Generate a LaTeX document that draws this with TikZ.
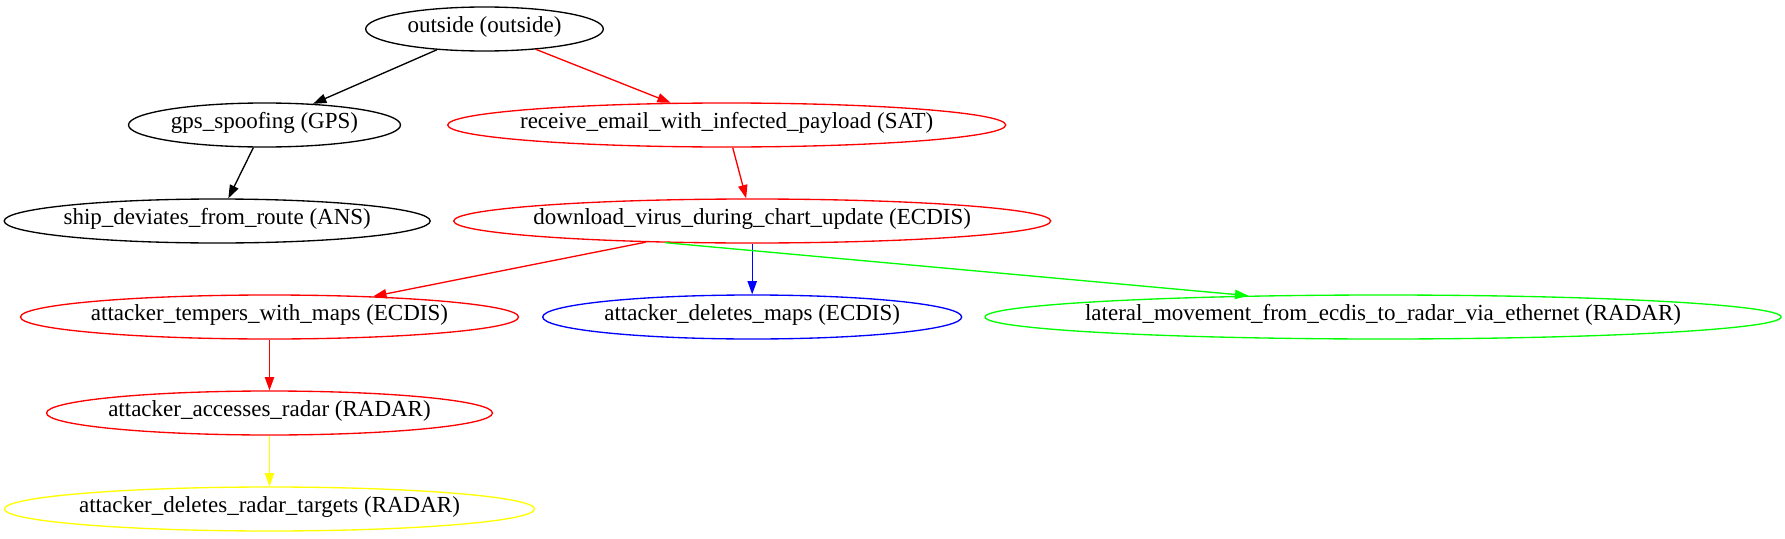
\documentclass[tikz,border=0pt]{standalone}
\usepackage{fontspec}
\setmainfont{Liberation Serif}
\usetikzlibrary{shapes.geometric,arrows.meta}
\definecolor{gvred}{RGB}{255,0,0}
\definecolor{gvblue}{RGB}{0,0,255}
\definecolor{gvgreen}{RGB}{0,255,0}
\definecolor{gvyellow}{RGB}{255,255,0}
\newcommand\zb[1]{\makebox[0pt]{#1}}
\tikzset{
  gvnode/.style={ellipse, draw, line width=1pt, inner sep=0pt,
    minimum width={#1*0.75pt}, minimum height=33pt,
    text height=0.69em, text depth=0.22em},
  gvedge/.style={line width=1pt, -{Triangle[length=10pt,width=7pt]}},
}
\begin{document}
\begin{tikzpicture}[x=0.75pt, y=-0.75pt, font=\fontsize{17.25}{20}\selectfont]
\useasboundingbox (0,0) rectangle (1785,539);

\node[gvnode=237.6] (outside) at (484.5,29) {\zb{outside (outside)}};
\node[gvnode=272] (gps) at (264.5,125) {\zb{gps\_spoofing (GPS)}};
\node[gvnode=558, draw=gvred] (receive) at (726.7,125) {\zb{receive\_email\_with\_infected\_payload (SAT)}};
\node[gvnode=426] (ship) at (217.2,221) {\zb{ship\_deviates\_from\_route (ANS)}};
\node[gvnode=597, draw=gvred] (download) at (752.2,221) {\zb{download\_virus\_during\_chart\_update (ECDIS)}};
\node[gvnode=498, draw=gvred] (tempers) at (269.5,317) {\zb{attacker\_tempers\_with\_maps (ECDIS)}};
\node[gvnode=419, draw=gvblue] (dmaps) at (752.2,317) {\zb{attacker\_deletes\_maps (ECDIS)}};
\node[gvnode=796, draw=gvgreen] (lateral) at (1383,317) {\zb{lateral\_movement\_from\_ecdis\_to\_radar\_via\_ethernet (RADAR)}};
\node[gvnode=446, draw=gvred] (accesses) at (269.5,413) {\zb{attacker\_accesses\_radar (RADAR)}};
\node[gvnode=530, draw=gvyellow] (dradar) at (269.5,509) {\zb{attacker\_deletes\_radar\_targets (RADAR)}};

\draw[gvedge] (outside) -- (gps);
\draw[gvedge, gvred] (outside) -- (receive);
\draw[gvedge] (gps) -- (ship);
\draw[gvedge, gvred] (receive) -- (download);
\draw[gvedge, gvred] (download) -- (tempers);
\draw[gvedge, gvblue] (download) -- (dmaps);
\draw[gvedge, gvgreen] (download.194.9) -- (lateral.171.6);
\draw[gvedge, gvred] (tempers) -- (accesses);
\draw[gvedge, gvyellow] (accesses) -- (dradar);
\end{tikzpicture}
\end{document}
